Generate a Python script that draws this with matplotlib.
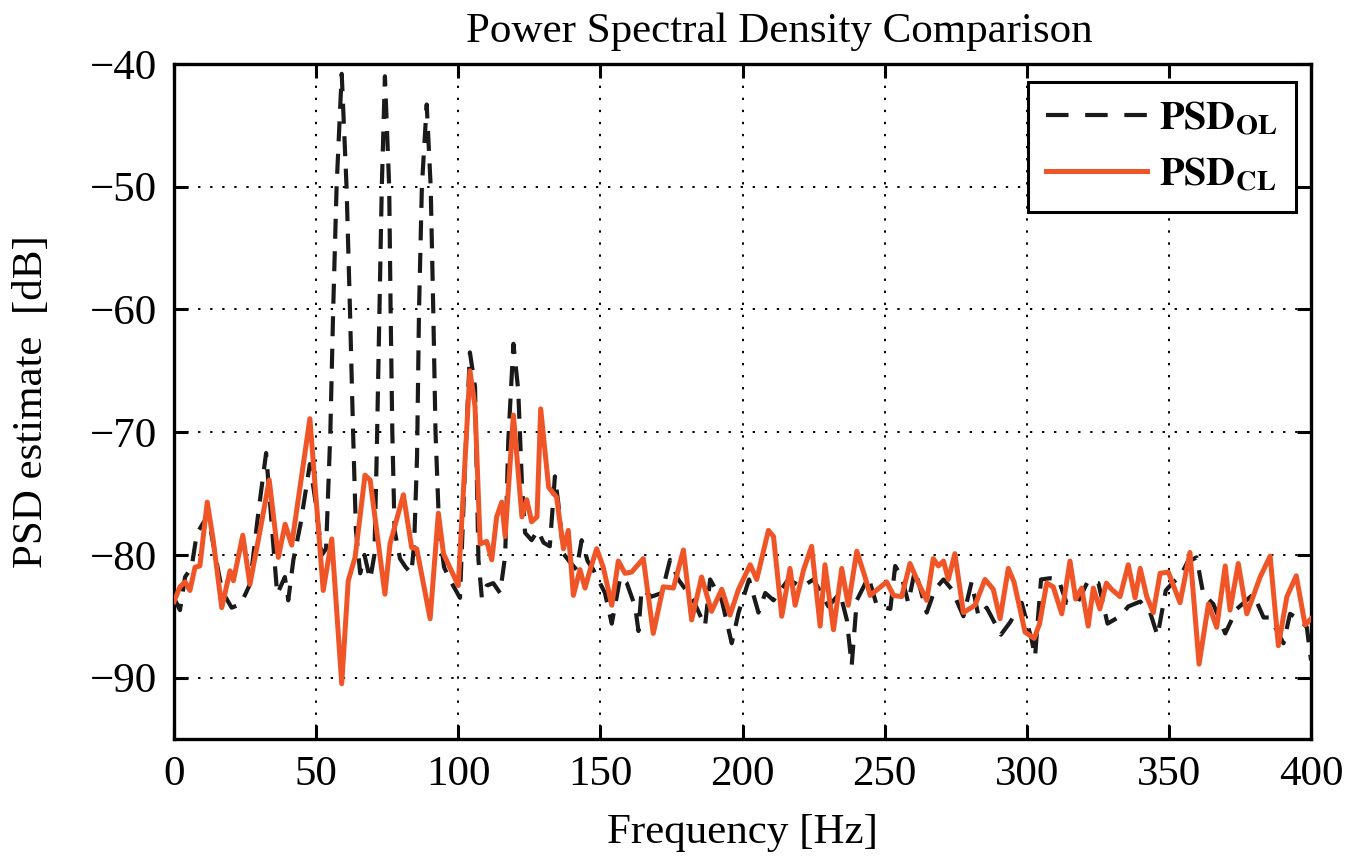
import matplotlib
matplotlib.use("Agg")
import matplotlib.pyplot as plt

# Open-loop PSD estimate (frequency [Hz], level [dB])
ol_freq = [0, 2.1, 3.9, 6.2, 8.0, 10.0, 12.0, 14.5, 17.0, 20.3, 23.5, 26.7, 29.7, 32.4, 35.0,
           36.3, 39.0, 40.2, 42.0, 44.5, 47.8, 50.0, 52.0, 53.5, 55.0, 56.0, 57.2, 59.0, 60.7,
           61.9, 63.0, 64.0, 65.5, 67.0, 69.0, 70.5, 71.3, 72.3, 73.1, 74.2, 75.7, 76.2, 76.8,
           77.6, 79.5, 81.5, 83.5, 84.5, 85.5, 86.2, 87.2, 88.9, 90.3, 91.2, 92.0, 93.3, 95.0,
           97.0, 100.6, 102.5, 104.1, 105.9, 107.1, 108.3, 110.0, 112.3, 114.7, 116.5, 117.6,
           119.4, 121.1, 122.4, 123.5, 125.8, 128.0, 130.0, 132.2, 134.0, 135.2, 137.0, 139.0,
           141.6, 143.4, 145.5, 147.5, 151.6, 154.0, 157.0, 159.3, 162.2, 163.4, 164.5, 168.0,
           171.6, 174.5, 177.4, 182.7, 186.8, 188.6, 192.7, 196.2, 198.6, 202.3, 205.6, 208.0,
           210.9, 216.1, 220.8, 225.0, 230.2, 234.3, 236.7, 238.4, 240.2, 244.3, 247.2, 252.0,
           253.7, 256.0, 258.3, 260.7, 264.8, 267.7, 270.7, 273.6, 277.7, 280.6, 283.0, 285.9,
           290.9, 294.1, 298.2, 301.7, 302.9, 305.0, 308.2, 311.1, 314.0, 317.6, 321.6, 325.2,
           328.4, 332.8, 335.7, 339.9, 343.4, 346.0, 348.9, 351.6, 353.9, 356.5, 359.7, 362.1,
           365.6, 369.8, 373.9, 379.7, 383.3, 385.6, 390.3, 392.6, 396.2, 398.5, 400.0]
ol_db = [-83.5, -84.5, -81.8, -81.0, -78.3, -77.5, -76.8, -80.0, -83.0, -84.3, -84.0, -82.4, -76.5,
         -71.7, -79.4, -83.2, -81.8, -83.7, -80.4, -77.5, -72.6, -76.0, -80.0, -79.5, -70.0, -60.0,
         -50.0, -40.8, -50.0, -60.0, -70.0, -78.0, -81.5, -80.0, -82.0, -80.0, -72.0, -60.0, -50.0,
         -41.0, -50.0, -60.0, -70.0, -78.0, -80.3, -81.0, -81.5, -79.0, -72.0, -60.0, -50.0, -43.3,
         -50.0, -60.0, -70.0, -78.0, -81.0, -82.0, -83.5, -72.0, -63.5, -66.3, -80.4, -83.5, -82.5,
         -82.3, -83.1, -80.1, -70.7, -62.8, -66.6, -74.2, -78.2, -78.8, -78.0, -79.0, -79.3, -73.6,
         -75.8, -79.9, -80.5, -81.2, -78.8, -80.5, -81.2, -83.1, -85.6, -81.8, -82.3, -84.2, -86.2,
         -82.8, -83.4, -83.1, -80.4, -82.0, -83.7, -85.8, -82.0, -83.7, -87.2, -84.7, -82.0, -84.7,
         -83.1, -83.7, -82.0, -82.6, -82.0, -84.2, -83.1, -85.3, -89.0, -83.7, -81.8, -84.1, -84.4,
         -80.9, -81.8, -83.9, -81.2, -84.7, -82.8, -82.0, -82.8, -85.0, -82.2, -85.0, -84.3, -86.5,
         -85.5, -83.9, -86.9, -88.3, -82.0, -81.9, -82.0, -83.9, -84.0, -82.1, -82.3, -85.6, -85.0,
         -84.2, -83.8, -84.7, -86.6, -82.9, -82.2, -81.8, -80.6, -80.2, -83.2, -84.0, -86.4, -84.4,
         -83.2, -85.1, -85.1, -87.2, -84.8, -85.3, -85.9, -88.6]

# Closed-loop PSD estimate (frequency [Hz], level [dB])
cl_freq = [0, 2.1, 3.9, 5.6, 7.4, 9.1, 11.7, 13.8, 16.8, 19.7, 20.9, 24.2, 26.7, 30.3, 33.5, 36.7,
           39.1, 41.4, 47.8, 52.5, 55.5, 59.0, 61.3, 63.7, 67.2, 69.0, 74.2, 76.0, 80.7, 83.6,
           85.4, 90.1, 93.0, 94.8, 100.0, 104.1, 105.9, 107.7, 110.0, 111.8, 113.5, 115.3, 116.5,
           119.4, 122.4, 124.1, 125.8, 127.7, 129.0, 131.8, 134.6, 137.0, 138.7, 140.5, 142.8,
           144.6, 146.4, 148.7, 151.0, 154.0, 156.3, 158.7, 161.0, 165.1, 168.6, 172.1, 175.7,
           179.2, 182.1, 185.6, 189.1, 192.7, 195.6, 198.6, 202.7, 205.0, 209.1, 210.9, 213.8,
           216.7, 218.5, 221.5, 224.3, 227.3, 229.0, 232.0, 234.9, 237.2, 240.2, 243.1, 244.9,
           250.7, 253.1, 256.0, 258.9, 261.9, 264.8, 267.1, 268.9, 270.7, 272.4, 274.7, 277.7,
           281.8, 285.3, 288.2, 290.6, 293.5, 295.5, 299.4, 302.6, 304.5, 307.0, 309.3, 312.3,
           315.2, 317.2, 319.3, 321.6, 323.4, 325.7, 328.0, 329.8, 332.8, 335.7, 338.1, 339.9,
           342.2, 344.5, 346.9, 349.8, 353.9, 357.4, 360.6, 363.9, 366.8, 369.8, 371.5, 374.4,
           377.4, 382.1, 385.6, 388.5, 391.5, 394.8, 397.9, 400.0]
cl_db = [-83.8, -82.6, -82.2, -82.9, -81.0, -80.9, -75.7, -78.8, -84.3, -81.3, -82.1, -78.4, -82.4,
         -78.0, -73.9, -80.2, -77.5, -79.2, -68.9, -82.9, -78.7, -90.5, -82.1, -80.2, -73.5, -73.9,
         -83.2, -79.1, -75.1, -79.4, -79.5, -85.2, -76.6, -79.9, -82.5, -65.0, -67.9, -79.1, -78.9,
         -80.4, -76.9, -75.7, -78.5, -68.6, -76.9, -75.5, -77.3, -76.9, -68.1, -74.5, -75.3, -79.5,
         -78.0, -83.3, -81.2, -82.7, -81.2, -79.5, -81.0, -84.1, -80.5, -81.5, -81.4, -80.3, -86.4,
         -82.6, -82.7, -79.6, -85.3, -81.8, -84.6, -82.8, -84.9, -82.8, -80.8, -82.0, -78.0, -78.5,
         -85.0, -81.1, -84.1, -81.2, -79.3, -85.8, -80.8, -86.1, -81.1, -84.1, -79.7, -81.8, -83.3,
         -82.2, -83.3, -83.4, -80.7, -82.3, -83.7, -80.3, -80.9, -80.5, -82.0, -79.9, -84.7, -84.1,
         -82.0, -82.8, -85.2, -81.1, -82.2, -86.3, -86.8, -85.6, -82.3, -82.6, -84.8, -80.5, -83.6,
         -82.7, -85.8, -82.7, -84.4, -82.3, -82.8, -83.4, -80.8, -83.5, -81.1, -83.4, -84.7, -81.5,
         -81.4, -83.9, -79.8, -88.9, -84.0, -85.9, -80.9, -84.5, -80.7, -84.8, -81.8, -80.1, -87.4,
         -83.4, -81.7, -85.7, -85.2]

x_ticks = [0, 50, 100, 150, 200, 250, 300, 350, 400]
y_ticks = [-90, -80, -70, -60, -50, -40]

plt.rcParams["font.family"] = ["Liberation Serif", "DejaVu Serif"]
plt.rcParams["mathtext.fontset"] = "stix"
plt.rcParams["axes.unicode_minus"] = True

fig = plt.figure(figsize=(13.53, 8.58), dpi=100)
ax = fig.add_axes([0.1286, 0.1387, 0.8404, 0.7867])

ax.plot(ol_freq, ol_db, color="#1a1a1a", linewidth=3.0, linestyle=(0, (4.8, 3.0)),
        label=r"$\mathbf{PSD}_{\mathbf{OL}}$", zorder=3)
ax.plot(cl_freq, cl_db, color="#ef5526", linewidth=3.6, label=r"$\mathbf{PSD}_{\mathbf{CL}}$",
        zorder=4)

ax.set_xlim(0, 400)
ax.set_ylim(-95, -40)
ax.set_xticks(x_ticks)
ax.set_yticks(y_ticks)
ax.grid(True, color="black", linestyle=(0, (1.2, 5)), linewidth=1.4)
ax.tick_params(direction="in", length=10, width=2.2, labelsize=31, top=True, right=True, pad=12)
for sp in ax.spines.values():
    sp.set_linewidth(2.4)

ax.set_title("Power Spectral Density Comparison", fontsize=31, pad=16, x=0.532)
ax.set_xlabel("Frequency [Hz]", fontsize=31, labelpad=14)
ax.set_ylabel("PSD estimate  [dB]", fontsize=31, labelpad=28)

leg = ax.legend(loc="upper right", fontsize=29, frameon=True, fancybox=False, framealpha=1,
                edgecolor="black", handlelength=2.5, handletextpad=0.3, borderpad=0.45,
                labelspacing=0.45, borderaxespad=0, bbox_to_anchor=(0.9868, 0.973))
leg.get_frame().set_linewidth(2.2)
# three whole dashes in the legend sample
leg.get_lines()[0].set_linestyle((0, (5.4, 4.0)))

fig.savefig("out.png", dpi=100)
